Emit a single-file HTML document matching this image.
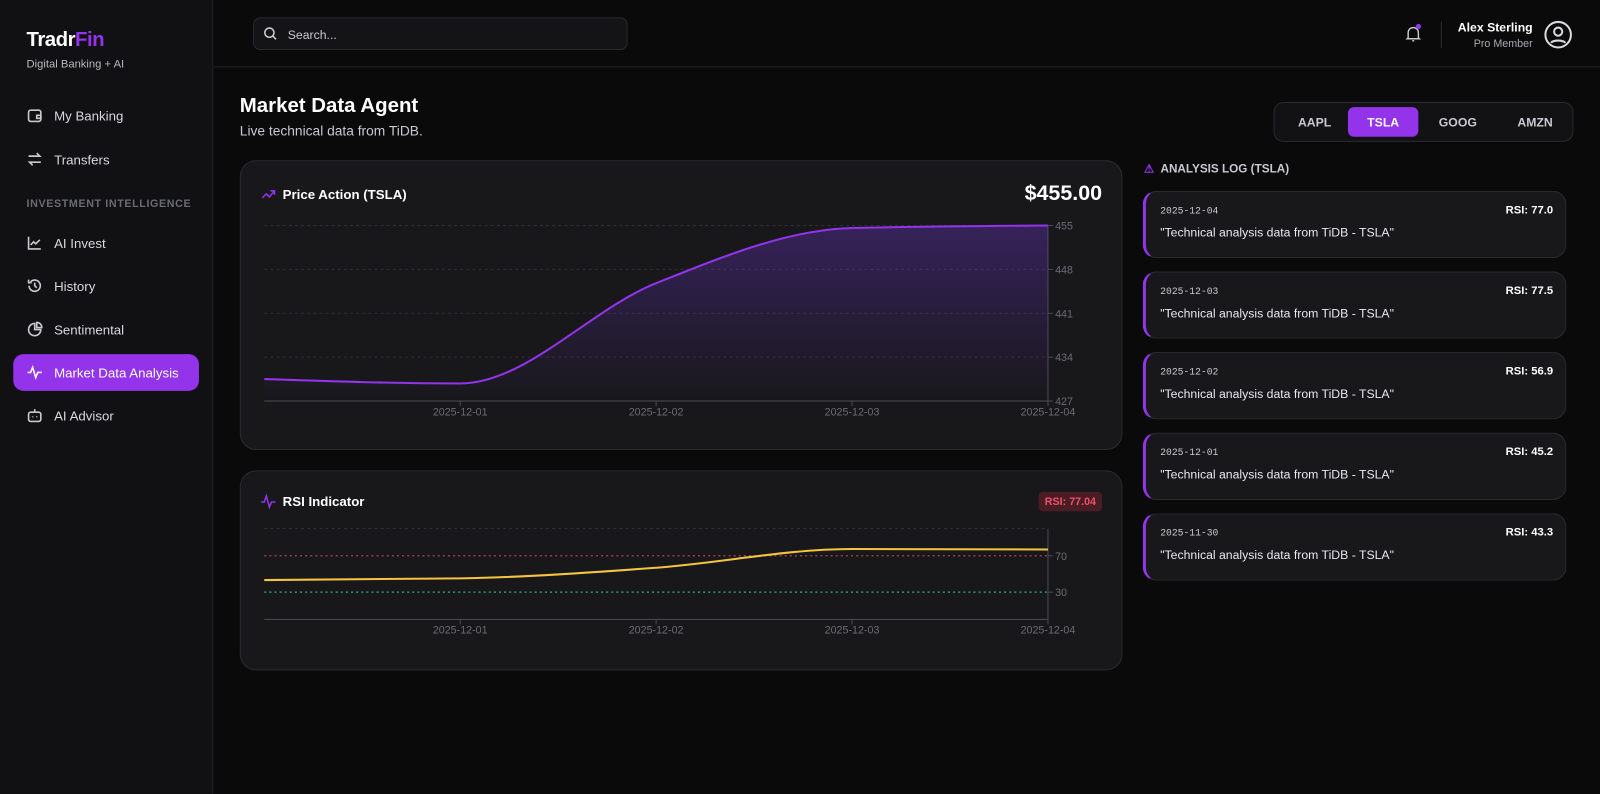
<!DOCTYPE html>
<html><head><meta charset="utf-8">
<style>
*{box-sizing:border-box;margin:0;padding:0}
body{width:1600px;height:794px;background:#0a0a0b;font-family:"Liberation Sans",sans-serif;color:#fff;position:relative;overflow:hidden}
#root{position:absolute;left:0;top:0;width:1568px;height:778px;transform:scale(1.020408);transform-origin:0 0}
.abs{position:absolute}
#sidebar{left:0;top:0;width:209px;height:778px;background:#111113;border-right:1px solid #222226}
.logo{left:26px;top:28px;font-size:20px;font-weight:bold;letter-spacing:-0.5px}
.sub{left:26px;top:57px;font-size:11px;color:#b8b8c0}
.nav{position:absolute;left:13px;width:182px;height:36px;border-radius:10px;display:flex;align-items:center;padding-left:13px;font-size:13px;color:#d8d8de}
.nav svg{width:16px;height:16px;margin-right:11px;stroke:#c8c8d0;fill:none;stroke-width:1.6}
.nav.active{background:#9333ea;color:#fff}
.nav.active svg{stroke:#fff}
.sect{left:26px;top:194px;font-size:10.5px;font-weight:bold;color:#6b6b75;letter-spacing:.6px}
#header{left:209px;top:0;width:1391px;height:66px;border-bottom:1px solid #222226;background:#0a0a0b}
.search{left:248px;top:17px;width:367px;height:32px;border:1px solid #2a2a30;border-radius:7px;background:#141416;font-size:12px;color:#c8c8d0;padding:9px 0 0 33px}
.card{position:absolute;background:#18181b;border:1px solid #2a2a30;border-radius:16px}
.tick{fill:#6b6b75;font-size:10.5px;font-family:"Liberation Sans",sans-serif}
.log{position:absolute;left:1120px;width:415px;height:66px;background:#18181b;border:1px solid #2a2a30;border-left:3px solid #9333ea;border-radius:13px}
.log .d{position:absolute;left:14px;top:13px;font-family:"Liberation Mono",monospace;font-size:9.5px;color:#c8c8d0}
.log .r{position:absolute;right:12px;top:12px;font-size:11px;font-weight:bold}
.log .t{position:absolute;left:14px;top:33px;font-size:12px;color:#e8e8ee}
</style></head><body>
<div id="root">
<div id="sidebar" class="abs">
  <div class="abs logo">Tradr<span style="color:#9333ea">Fin</span></div>
  <div class="abs sub">Digital Banking + AI</div>
  <div class="nav" style="top:95px"><svg viewBox="0 0 16 16"><rect x="2" y="3" width="12" height="11" rx="2"/><path d="M10 8h4v3h-4z"/></svg>My Banking</div>
  <div class="nav" style="top:138px"><svg viewBox="0 0 16 16"><path d="M2 5h11l-3-3M14 11H3l3 3"/></svg>Transfers</div>
  <div class="abs sect">INVESTMENT INTELLIGENCE</div>
  <div class="nav" style="top:220px"><svg viewBox="0 0 16 16"><path d="M2 2v12h12M4 10l3-3 2 2 4-4"/></svg>AI Invest</div>
  <div class="nav" style="top:262px"><svg viewBox="0 0 16 16"><path d="M2.5 8a5.5 5.5 0 1 0 1.5-3.8M2 2v3h3M8 5v3l2 2"/></svg>History</div>
  <div class="nav" style="top:305px"><svg viewBox="0 0 16 16"><path d="M8 2a6 6 0 1 0 6 6H8z M10 1a5 5 0 0 1 5 5h-5z"/></svg>Sentimental</div>
  <div class="nav active" style="top:347px"><svg viewBox="0 0 16 16"><path d="M1 8h3l2-5 3 10 2-5h4"/></svg>Market Data Analysis</div>
  <div class="nav" style="top:389px"><svg viewBox="0 0 16 16"><rect x="2" y="5" width="12" height="9" rx="2"/><path d="M8 2v3M6 9v1M10 9v1"/></svg>AI Advisor</div>
</div>
<div id="header" class="abs"></div>
<div class="abs search">Search...</div>
<svg class="abs" style="left:258px;top:26px" width="14" height="14" viewBox="0 0 14 14"><circle cx="6" cy="6" r="4.5" stroke="#c8c8d0" stroke-width="1.5" fill="none"/><path d="M9.5 9.5l3 3" stroke="#c8c8d0" stroke-width="1.5"/></svg>
<svg class="abs" style="left:1376px;top:22px" width="20" height="22" viewBox="0 0 20 22"><path d="M4 15V10a5 5 0 0 1 10 0v5l1 1H3z M8 18h2" stroke="#c8c8d0" stroke-width="1.4" fill="none"/><circle cx="14" cy="4" r="2.6" fill="#9333ea"/></svg>
<div class="abs" style="left:1412px;top:21px;width:1px;height:26px;background:#2a2a30"></div>
<div class="abs" style="left:1400px;width:102px;top:20px;text-align:right;font-size:12px;font-weight:bold">Alex Sterling<div style="font-size:10.5px;font-weight:normal;color:#a8a8b0;margin-top:3px">Pro Member</div></div>
<svg class="abs" style="left:1513px;top:20px" width="28" height="28" viewBox="0 0 28 28"><circle cx="14" cy="14" r="12.5" stroke="#d8d8de" stroke-width="2" fill="none"/><circle cx="14" cy="11" r="4" stroke="#d8d8de" stroke-width="2" fill="none"/><path d="M7 22c2-3 12-3 14 0" stroke="#d8d8de" stroke-width="2" fill="none"/></svg>

<div class="abs" style="left:235px;top:93px;font-size:20px;font-weight:bold">Market Data Agent</div>
<div class="abs" style="left:235px;top:121px;font-size:13.5px;color:#c8c8d0">Live technical data from TiDB.</div>

<div class="abs" style="left:1248px;top:100px;width:294px;height:39px;border:1px solid #2a2a30;border-radius:10px;background:#121214">
  <div class="abs" style="left:23px;top:12px;font-size:12px;font-weight:bold;color:#c8c8d0">AAPL</div>
  <div class="abs" style="left:72px;top:4px;width:69px;height:29px;border-radius:6px;background:#9333ea;text-align:center;padding-top:8px;font-size:12px;font-weight:bold">TSLA</div>
  <div class="abs" style="left:161px;top:12px;font-size:12px;font-weight:bold;color:#c8c8d0">GOOG</div>
  <div class="abs" style="left:238px;top:12px;font-size:12px;font-weight:bold;color:#c8c8d0">AMZN</div>
</div>

<div class="card" style="left:235px;top:157px;width:865px;height:284px"></div>
<div class="card" style="left:235px;top:461px;width:865px;height:196px"></div>
<svg class="abs" style="left:256px;top:184px" width="14" height="12" viewBox="0 0 14 12"><path d="M1 10l4-4 3 3 5-6M9 3h4v4" stroke="#9333ea" stroke-width="1.5" fill="none"/></svg>
<div class="abs" style="left:277px;top:183px;font-size:13px;font-weight:bold">Price Action (TSLA)</div>
<div class="abs" style="left:980px;width:100px;text-align:right;top:178px;font-size:21px;font-weight:bold">$455.00</div>
<svg class="abs" style="left:255px;top:482px" width="16" height="18" viewBox="0 0 16 18"><path d="M1 10h3l2-6 3 11 2-5h4" stroke="#9333ea" stroke-width="1.5" fill="none"/></svg>
<div class="abs" style="left:277px;top:484px;font-size:13px;font-weight:bold">RSI Indicator</div>
<div class="abs" style="left:1018px;top:482px;width:62px;height:19px;border-radius:4px;background:#4a1d24;color:#f0506a;font-size:10.5px;font-weight:bold;text-align:center;padding-top:4px">RSI: 77.04</div>

<svg id="charts" class="abs" style="left:0;top:0" width="1568" height="778">
<defs><linearGradient id="g" x1="0" y1="0" x2="0" y2="1"><stop offset="0" stop-color="#7c3aed" stop-opacity=".3"/><stop offset="1" stop-color="#7c3aed" stop-opacity="0"/></linearGradient></defs>
</svg>

<div class="abs" style="left:1121px;top:158px;font-size:11.5px;font-weight:bold;color:#c8c8d0"><span style="color:#9333ea">⚠</span>&nbsp; ANALYSIS LOG (TSLA)</div>
<div class="log" style="top:187px"><div class="d">2025-12-04</div><div class="r">RSI: 77.0</div><div class="t">"Technical analysis data from TiDB - TSLA"</div></div>
<div class="log" style="top:266px"><div class="d">2025-12-03</div><div class="r">RSI: 77.5</div><div class="t">"Technical analysis data from TiDB - TSLA"</div></div>
<div class="log" style="top:345px"><div class="d">2025-12-02</div><div class="r">RSI: 56.9</div><div class="t">"Technical analysis data from TiDB - TSLA"</div></div>
<div class="log" style="top:424px"><div class="d">2025-12-01</div><div class="r">RSI: 45.2</div><div class="t">"Technical analysis data from TiDB - TSLA"</div></div>
<div class="log" style="top:503px"><div class="d">2025-11-30</div><div class="r">RSI: 43.3</div><div class="t">"Technical analysis data from TiDB - TSLA"</div></div>
</div>

<script>
const dates = ["2025-11-30","2025-12-01","2025-12-02","2025-12-03","2025-12-04"];
const xTickLabels = ["2025-12-01","2025-12-02","2025-12-03","2025-12-04"];
const prices = [430.5, 429.8, 445.8, 454.6, 455.0];
const priceTicks = [427, 434, 441, 448, 455];
const rsiValues = [43.3, 45.2, 56.9, 77.5, 77.0];
const rsiTicks = [30, 70];
const rsiLevels = [70, 30];

const NS="http://www.w3.org/2000/svg";
const svg=document.getElementById('charts');
function mk(tag,attrs){const e=document.createElementNS(NS,tag);for(const k in attrs)e.setAttribute(k,attrs[k]);svg.appendChild(e);return e;}
const X0=259,X1=1027;
function xScale(i){return X0+(X1-X0)*i/(dates.length-1);}
function xByDate(d){return xScale(dates.indexOf(d));}
function monotone(pts){
  const n=pts.length;const dx=[],m=[],t=[];
  for(let i=0;i<n-1;i++){dx.push(pts[i+1][0]-pts[i][0]);m.push((pts[i+1][1]-pts[i][1])/dx[i]);}
  t[0]=m[0];t[n-1]=m[n-2];
  for(let i=1;i<n-1;i++){if(m[i-1]*m[i]<=0)t[i]=0;else{const h0=dx[i-1],h1=dx[i];const p=(m[i-1]*h1+m[i]*h0)/(h0+h1);t[i]=(Math.sign(m[i-1])+Math.sign(m[i]))*Math.min(Math.abs(m[i-1]),Math.abs(m[i]),0.5*Math.abs(p));}}
  t[0]=(3*m[0]-t[1])/2; if(t[0]*m[0]<=0)t[0]=0;
  t[n-1]=(3*m[n-2]-t[n-2])/2; if(t[n-1]*m[n-2]<=0)t[n-1]=0;
  let d="M"+pts[0][0]+","+pts[0][1];
  for(let i=0;i<n-1;i++){const h=dx[i]/3;d+=" C"+(pts[i][0]+h)+","+(pts[i][1]+t[i]*h)+" "+(pts[i+1][0]-h)+","+(pts[i+1][1]-t[i+1]*h)+" "+pts[i+1][0]+","+pts[i+1][1];}
  return d;
}
function drawAxes(yScale,ticks,top,bottom,grid,name){
  if(grid){ticks.forEach(v=>{const g=mk('line',{x1:X0,x2:X1,y1:yScale(v),y2:yScale(v),stroke:'#2e2e34','stroke-dasharray':'3 3'});
    
    });}
  const xa=mk('line',{x1:X0,x2:X1,y1:bottom,y2:bottom,stroke:'#4a4a52'});
  
  
  const ya=mk('line',{x1:X1,x2:X1,y1:top,y2:bottom,stroke:'#4a4a52'});
  
  
  ticks.forEach(v=>{const y=yScale(v);mk('line',{x1:X1,x2:X1+5,y1:y,y2:y,stroke:'#4a4a52'});
    const t=mk('text',{x:X1+7,y:y+4,class:'tick'});t.textContent=v;
    
    });
  xTickLabels.forEach(d=>{const x=xByDate(d);mk('line',{x1:x,x2:x,y1:bottom,y2:bottom+5,stroke:'#4a4a52'});
    const t=mk('text',{x:x,y:bottom+14,class:'tick','text-anchor':'middle'});t.textContent=d;
    
    });
}
const pTop=221,pBot=393,pMin=427,pMax=455;
function yPrice(v){return pBot-(v-pMin)/(pMax-pMin)*(pBot-pTop);}
drawAxes(yPrice,priceTicks,pTop,pBot,true,'price');
const pPts=prices.map((v,i)=>[xScale(i),yPrice(v)]);
const pd=monotone(pPts);
const area=mk('path',{d:pd+" L"+X1+","+pBot+" L"+X0+","+pBot+" Z",fill:'url(#g)'});


const pl=mk('path',{d:pd,fill:'none',stroke:'#9333ea','stroke-width':2});


const rTop=518,rBot=607;
function yRsi(v){return rBot-v/100*(rBot-rTop);}
const tg=mk('line',{x1:X0,x2:X1,y1:yRsi(100),y2:yRsi(100),stroke:'#2e2e34','stroke-dasharray':'3 3'});


drawAxes(yRsi,rsiTicks,rTop,rBot,false,'rsi');
rsiLevels.forEach(v=>{const l=mk('line',{x1:X0,x2:X1,y1:yRsi(v),y2:yRsi(v),stroke:v>50?'#c0455a':'#2fb37a','stroke-dasharray':'2 3','stroke-width':1.2});
  
  });
const rl=mk('path',{d:monotone(rsiValues.map((v,i)=>[xScale(i),yRsi(v)])),fill:'none',stroke:'#f5c542','stroke-width':2});


</script>
</body></html>
